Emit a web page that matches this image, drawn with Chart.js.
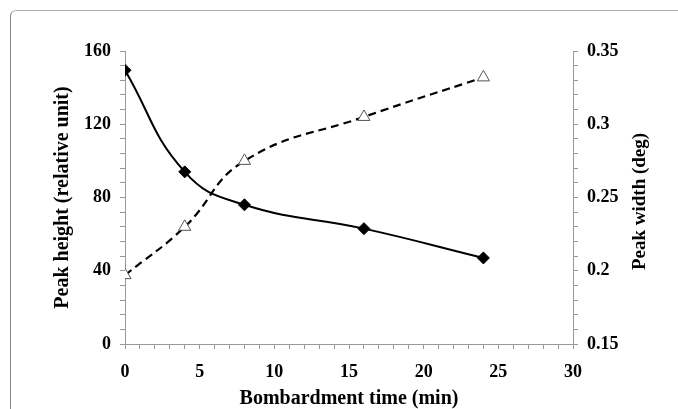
<!DOCTYPE html>
<html>
<head>
<meta charset="utf-8">
<script src="https://cdn.jsdelivr.net/npm/chart.js@4/dist/chart.umd.min.js"></script>
<style>
  html, body { margin: 0; padding: 0; background: #fff; overflow: hidden; }
  #wrap { position: absolute; left: 0; top: 0; width: 678px; height: 409px; }
  #frame { position: absolute; left: 10px; top: 10px; width: 720px; height: 460px;
           border-left: 1.5px solid #8a8a8a; border-top: 1.5px solid #b0b0b0; border-top-left-radius: 6px; }
  canvas { position: absolute; left: 0; top: 0; }
</style>
</head>
<body>
<div id="wrap">
  <div id="frame"></div>
  <canvas id="c" width="678" height="409"></canvas>
</div>
<script>
// Data
const bombardmentTime = [0, 4, 8, 16, 24];
const peakHeight = [149.5, 94, 76, 63, 47];
const peakWidth = [0.197, 0.23, 0.275, 0.305, 0.332];
const xTickLabels = [0, 5, 10, 15, 20, 25, 30];
const leftTickLabels = [0, 40, 80, 120, 160];
const rightTickLabels = ['0.15', '0.2', '0.25', '0.3', '0.35'];

const FONT = "'Liberation Serif', 'Times New Roman', serif";
const AXIS = '#999999';

const rightTitlePlugin = {
  id: 'rightTitle',
  afterDraw(chart) {
    const ctx = chart.ctx;
    const s = chart.scales.y1;
    const area = chart.chartArea;
    ctx.save();
    ctx.translate(s.left + 67, (area.top + area.bottom) / 2 + 4);
    ctx.rotate(-Math.PI / 2);
    ctx.font = "bold 19px " + FONT;
    ctx.fillStyle = '#000';
    ctx.textAlign = 'center';
    ctx.textBaseline = 'middle';
    ctx.fillText('Peak width (deg)', 0, 0);
    ctx.restore();
  }
};

const gridOpts = { drawOnChartArea: false, drawTicks: true, tickLength: 5, color: AXIS, lineWidth: 1 };
const borderOpts = { display: true, color: AXIS, width: 1 };

new Chart(document.getElementById('c'), {
  type: 'line',
  data: {
    datasets: [
      {
        label: 'Peak height',
        data: bombardmentTime.map((x, i) => ({ x: x, y: peakHeight[i] })),
        yAxisID: 'y',
        borderColor: '#000',
        backgroundColor: '#000',
        borderWidth: 2,
        tension: 0.45,
        pointStyle: 'rectRot',
        pointRadius: 6,
        pointBackgroundColor: '#000',
        pointBorderColor: '#000',
        pointBorderWidth: 1
      },
      {
        label: 'Peak width',
        data: bombardmentTime.map((x, i) => ({ x: x, y: peakWidth[i] })),
        yAxisID: 'y1',
        borderColor: '#000',
        borderWidth: 2.2,
        borderDash: [8, 5],
        tension: 0.45,
        pointStyle: 'triangle',
        pointRadius: 7,
        pointBackgroundColor: '#fff',
        pointBorderColor: '#555',
        pointBorderWidth: 1
      }
    ]
  },
  options: {
    responsive: false,
    animation: false,
    layout: { padding: { left: 50, top: 51, right: 0, bottom: 0 } },
    plugins: { legend: { display: false }, tooltip: { enabled: false } },
    scales: {
      x: {
        type: 'linear',
        min: 0, max: 30,
        grid: gridOpts,
        border: borderOpts,
        afterFit(s) { s.height = 65; },
        ticks: {
          stepSize: 1, autoSkip: false, maxRotation: 0, padding: 13,
          color: '#000', font: { family: FONT, size: 18, weight: 'bold' },
          callback: v => xTickLabels.includes(v) ? String(v) : ''
        },
        title: {
          display: true, text: 'Bombardment time (min)', color: '#000',
          font: { family: FONT, size: 20, weight: 'bold', lineHeight: 1 },
          padding: { top: 0, bottom: 0 }
        }
      },
      y: {
        type: 'linear', position: 'left',
        min: 0, max: 160,
        grid: gridOpts,
        border: borderOpts,
        afterFit(s) { s.width = 75; },
        ticks: {
          stepSize: 8, autoSkip: false, padding: 9,
          color: '#000', font: { family: FONT, size: 18, weight: 'bold' },
          callback: v => leftTickLabels.includes(v) ? String(v) : ''
        },
        title: {
          display: true, text: 'Peak height (relative unit)', color: '#000',
          font: { family: FONT, size: 20, weight: 'bold', lineHeight: 1 },
          padding: { top: 3, bottom: 3 }
        }
      },
      y1: {
        type: 'linear', position: 'right',
        min: 0.15, max: 0.35,
        grid: gridOpts,
        border: borderOpts,
        afterFit(s) { s.width = 105; },
        ticks: {
          stepSize: 0.01, autoSkip: false, padding: 9,
          color: '#000', font: { family: FONT, size: 18, weight: 'bold' },
          callback: v => {
            const t = String(parseFloat(Number(v).toFixed(2)));
            return rightTickLabels.includes(t) ? t : '';
          }
        }
      }
    }
  },
  plugins: [rightTitlePlugin]
});
</script>
</body>
</html>
